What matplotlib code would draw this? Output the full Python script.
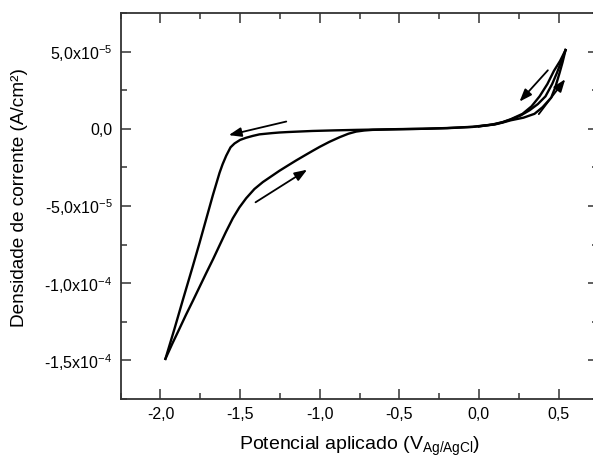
import matplotlib
matplotlib.use("Agg")
import matplotlib.pyplot as plt
from matplotlib.ticker import MultipleLocator, FixedLocator

plt.rcParams['font.family'] = ['Liberation Sans', 'DejaVu Sans']
plt.rcParams['mathtext.fontset'] = 'custom'
plt.rcParams['mathtext.rm'] = 'Liberation Sans'
plt.rcParams['mathtext.it'] = 'Liberation Sans'
plt.rcParams['mathtext.default'] = 'regular'

# voltammogram: start -> anodic vertex -> cathodic vertex -> anodic vertex
pot_start = [0.00, 0.10, 0.148, 0.20, 0.26, 0.318, 0.37, 0.418, 0.46, 0.489, 0.515, 0.544]
cur_start = [0.15e-5, 0.30e-5, 0.42e-5, 0.60e-5, 0.85e-5, 1.20e-5, 1.60e-5, 2.10e-5,
             2.90e-5, 3.60e-5, 4.30e-5, 5.10e-5]

pot_cath = [0.544, 0.510, 0.471, 0.430, 0.381, 0.330, 0.274, 0.200, 0.148, 0.08, -0.04,
            -0.20, -0.354, -0.50, -0.769, -0.90, -1.045, -1.20, -1.253, -1.30, -1.378,
            -1.420, -1.462, -1.500, -1.535, -1.560, -1.587, -1.610, -1.629, -1.671,
            -1.713, -1.755, -1.797, -1.860, -1.912, -1.969]
cur_cath = [5.10e-5, 4.40e-5, 3.75e-5, 2.90e-5, 2.10e-5, 1.45e-5, 0.97e-5, 0.62e-5,
            0.43e-5, 0.27e-5, 0.13e-5, 0.05e-5, 0.0, -0.02e-5, -0.07e-5, -0.10e-5,
            -0.14e-5, -0.21e-5, -0.24e-5, -0.28e-5, -0.36e-5, -0.46e-5, -0.58e-5,
            -0.72e-5, -0.95e-5, -1.20e-5, -1.74e-5, -2.30e-5, -2.85e-5, -4.30e-5,
            -5.85e-5, -7.40e-5, -8.90e-5, -11.1e-5, -12.95e-5, -14.9e-5]

pot_anod = [-1.969, -1.925, -1.881, -1.840, -1.797, -1.755, -1.713, -1.670, -1.629,
            -1.590, -1.546, -1.505, -1.462, -1.410, -1.357, -1.300, -1.253, -1.200,
            -1.148, -1.090, -1.043, -1.000, -0.940, -0.876, -0.820, -0.771, -0.720,
            -0.668, -0.550, -0.354, -0.200, -0.04, 0.10, 0.148, 0.200, 0.280, 0.349,
            0.400, 0.454, 0.480, 0.506, 0.525, 0.544]
cur_anod = [-14.9e-5, -13.9e-5, -12.95e-5, -12.05e-5, -11.15e-5, -10.25e-5, -9.35e-5,
            -8.45e-5, -7.55e-5, -6.70e-5, -5.80e-5, -5.10e-5, -4.50e-5, -3.90e-5,
            -3.45e-5, -3.05e-5, -2.72e-5, -2.38e-5, -2.05e-5, -1.70e-5, -1.42e-5,
            -1.17e-5, -0.85e-5, -0.55e-5, -0.32e-5, -0.18e-5, -0.11e-5, -0.07e-5,
            -0.04e-5, 0.0, 0.04e-5, 0.12e-5, 0.28e-5, 0.40e-5, 0.55e-5, 0.72e-5,
            0.97e-5, 1.40e-5, 2.02e-5, 2.70e-5, 3.60e-5, 4.30e-5, 5.10e-5]

# sweep direction arrows (tail, head)
arrows = [((-1.210, 0.47e-5), (-1.571, -0.41e-5)),
          ((-1.403, -4.76e-5), (-1.079, -2.65e-5)),
          ((0.433, 3.79e-5), (0.255, 1.76e-5)),
          ((0.376, 0.95e-5), (0.542, 3.21e-5))]

yticks = [-1.5e-4, -1.0e-4, -5.0e-5, 0.0, 5.0e-5]
ytick_labels = [r'-1,5x10$^{-4}$', r'-1,0x10$^{-4}$', r'-5,0x10$^{-5}$', '0,0', r'5,0x10$^{-5}$']
xticks = [-2.0, -1.5, -1.0, -0.5, 0.0, 0.5]
xtick_labels = ['-2,0', '-1,5', '-1,0', '-0,5', '0,0', '0,5']

fig = plt.figure(figsize=(5.93, 4.59), dpi=100)
ax = fig.add_axes([0.2035, 0.1307, 1.009 - 0.2035, 0.9717 - 0.1307])

for p, c in [(pot_start, cur_start), (pot_cath, cur_cath), (pot_anod, cur_anod)]:
    ax.plot(p, c, color='black', lw=1.7, solid_joinstyle='round')

for tail, head in arrows:
    ax.annotate('', xy=head, xytext=tail,
                arrowprops=dict(arrowstyle='-|>,head_length=0.75,head_width=0.28',
                                color='black', lw=1.3, shrinkA=0, shrinkB=0))

ax.set_xlim(-2.25, 0.75)
ax.set_ylim(-1.75e-4, 7.5e-5)
ax.xaxis.set_major_locator(FixedLocator(xticks))
ax.set_xticklabels(xtick_labels)
ax.xaxis.set_minor_locator(MultipleLocator(0.25))
ax.yaxis.set_major_locator(FixedLocator(yticks))
ax.set_yticklabels(ytick_labels)
ax.yaxis.set_minor_locator(MultipleLocator(2.5e-5))

ax.tick_params(which='both', direction='in', top=True, right=True, labelsize=11.5,
               width=1.1, color='#333333')
ax.tick_params(which='major', length=7.5, pad=6)
ax.tick_params(which='minor', length=4.2)
for s in ax.spines.values():
    s.set_linewidth(1.3)
    s.set_color('#333333')

ax.set_xlabel(r'Potencial aplicado (V$_{Ag/AgCl}$)', fontsize=14, labelpad=9)
ax.set_ylabel('Densidade de corrente (A/cm²)', fontsize=13.7)
ax.yaxis.set_label_coords(-0.194, 0.522)

fig.savefig('out.png', dpi=100)
